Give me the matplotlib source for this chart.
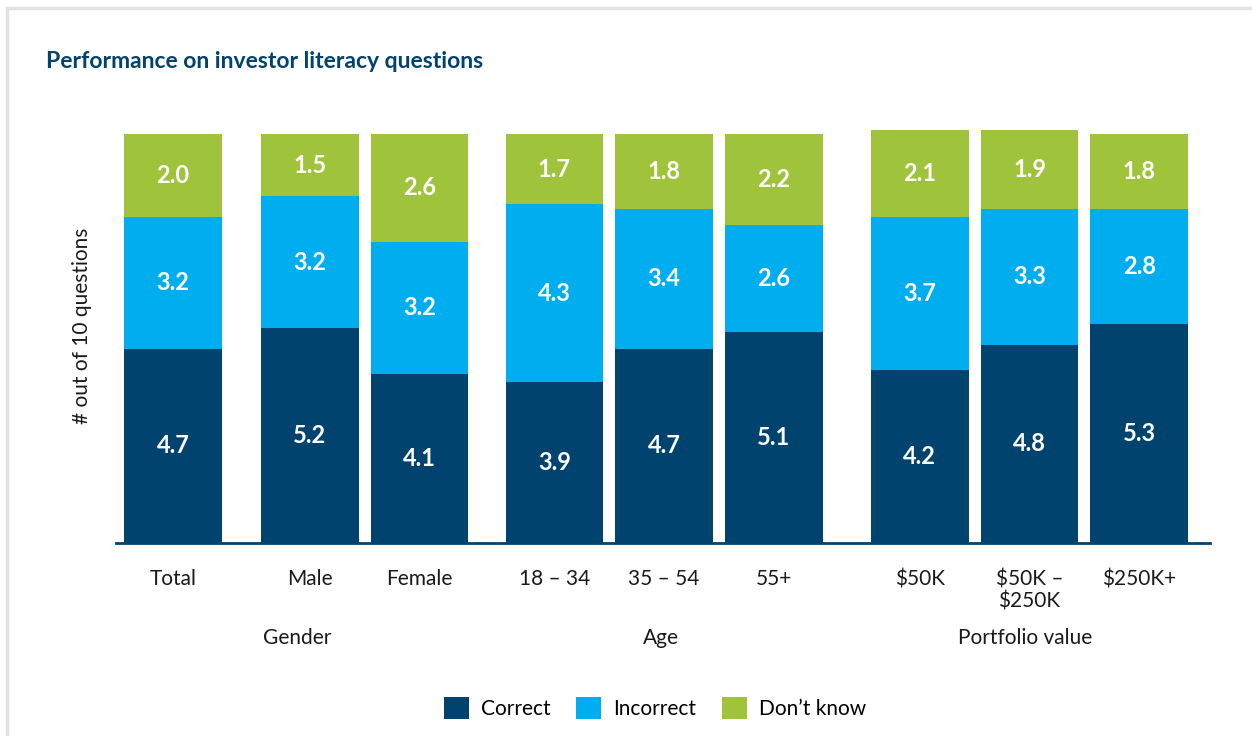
import numpy as np
import matplotlib.pyplot as plt
from matplotlib.patches import Patch

#______________________________ data ______________________________
categories = ['Total', 'Male', 'Female', '18 – 34', '35 – 54', '55+',
              '$50K', '$50K –\n$250K', '$250K+']
group_of = [0, 1, 1, 2, 2, 2, 3, 3, 3]
group_names = ['', 'Gender', 'Age', 'Portfolio value']
correct = [4.7, 5.2, 4.1, 3.9, 4.7, 5.1, 4.2, 4.8, 5.3]
incorrect = [3.2, 3.2, 3.2, 4.3, 3.4, 2.6, 3.7, 3.3, 2.8]
dont_know = [2.0, 1.5, 2.6, 1.7, 1.8, 2.2, 2.1, 1.9, 1.8]
series_names = ['Correct', 'Incorrect', 'Don\u2019t know']

#______________________________ style ______________________________
c_dark = '#00436f'
c_blue = '#00aeef'
c_green = '#a0c33c'
colors = [c_dark, c_blue, c_green]
plt.rcParams['font.family'] = ['Lato', 'DejaVu Sans']

# x positions: unit spacing inside a group, extra gap between groups
gaps = [0.0, 0.245, 0.23, 0.33]
x = []
off = 0.0
for i, g in enumerate(group_of):
    if i > 0 and g != group_of[i - 1]:
        off += gaps[g]
    x.append(i + off)
x = np.array(x)

fig = plt.figure(figsize=(12.52, 7.36), dpi=100)
ax = fig.add_axes([0.0927, 0.2622, 0.8738, 0.589])

bottom = np.zeros(len(categories))
for vals, col in zip([correct, incorrect, dont_know], colors):
    vals = np.array(vals)
    ax.bar(x, vals, width=0.89, bottom=bottom, color=col, linewidth=0)
    for xi, b, v in zip(x, bottom, vals):
        ax.text(xi, b + v / 2, f'{v:.1f}', ha='center', va='center',
                color='white', fontsize=17, fontweight='bold')
    bottom += vals

ax.set_xlim(-0.52, 9.45)
ax.set_ylim(0, 10.5)
for s in ['top', 'right', 'left']:
    ax.spines[s].set_visible(False)
ax.spines['bottom'].set_color(c_dark)
ax.spines['bottom'].set_linewidth(2)
ax.set_yticks([])
ax.set_xticks(x)
ax.set_xticklabels(categories, fontsize=15, va='top', linespacing=1.1)
ax.tick_params(axis='x', length=0, pad=19, colors='#1a1a1a')

# group labels under the ticks
shift = [0, -0.61, -0.03, -0.04]
for g in range(1, 4):
    xs = x[[i for i, gg in enumerate(group_of) if gg == g]]
    ax.text(xs.mean() + shift[g], -2.3, group_names[g], ha='center', va='center',
            fontsize=15, color='#1a1a1a')

ax.set_ylabel('# out of 10 questions', fontsize=15, color='#1a1a1a')
ax.yaxis.set_label_coords(-0.022, 0.5)

fig.text(46 / 1252, 1 - 61 / 736, 'Performance on investor literacy questions',
         fontsize=16.5, fontweight='bold', color=c_dark, va='center', ha='left')

handles = [Patch(facecolor=c, edgecolor='none') for c in colors]
fig.legend(handles, series_names, loc='center', bbox_to_anchor=(655 / 1252, 1 - 708 / 736),
           ncol=3, frameon=False, fontsize=15, handlelength=1.2, handleheight=1.2,
           columnspacing=1.2, handletextpad=0.6)

# light grey frame (top and left edges)
fig.add_artist(plt.Line2D([7 / 1252, 1], [1 - 8 / 736, 1 - 8 / 736], color='#e2e2e2', lw=2.5))
fig.add_artist(plt.Line2D([7 / 1252, 7 / 1252], [0, 1 - 8 / 736], color='#e2e2e2', lw=2.5))

fig.savefig('out.png', dpi=100)
